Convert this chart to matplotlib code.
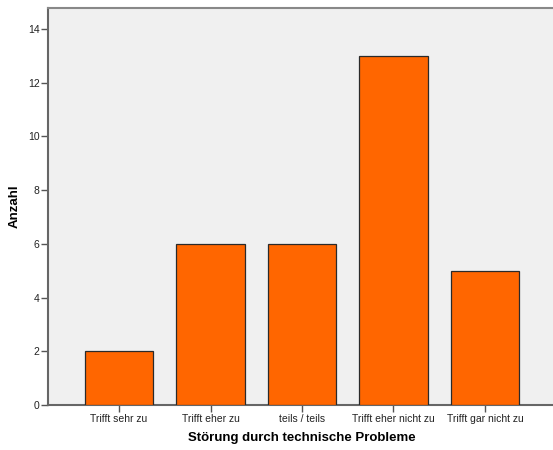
import matplotlib
matplotlib.use("Agg")
import matplotlib.pyplot as plt

categories = ["Trifft sehr zu", "Trifft eher zu", "teils / teils",
              "Trifft eher nicht zu", "Trifft gar nicht zu"]
counts = [2, 6, 6, 13, 5]
y_ticks = [0, 2, 4, 6, 8, 10, 12, 14]

plt.rcParams["font.family"] = ["Liberation Sans", "DejaVu Sans"]

fig = plt.figure(figsize=(5.53, 4.5), dpi=100)
ax = fig.add_axes([48 / 553, 45 / 450, 508 / 553, 397 / 450])
ax.set_facecolor("#F0F0F0")

x = list(range(len(categories)))
ax.bar(x, counts, width=0.745, color="#FF6600", edgecolor="#2a2a2a",
       linewidth=0.9, zorder=3)

ax.set_xlim(-0.776, 4.776)
ax.set_ylim(0, 14.78)
ax.set_yticks(y_ticks)
ax.set_yticklabels([str(v) for v in y_ticks], fontsize=7.5, color="#222222")
ax.set_xticks(x)
ax.set_xticklabels(categories, fontsize=7.5, color="#222222")

ax.tick_params(axis="y", direction="out", length=5, width=1, color="#555555", pad=1)
ax.tick_params(axis="x", direction="out", length=5, width=1, color="#555555", pad=1.5)

for side in ["left", "bottom"]:
    ax.spines[side].set_color("#666666")
    ax.spines[side].set_linewidth(1.5)
ax.spines["top"].set_color("#888888")
ax.spines["top"].set_linewidth(1.5)
ax.spines["right"].set_visible(False)

ax.set_xlabel("Störung durch technische Probleme", fontsize=9.5,
              fontweight="bold")
ax.xaxis.set_label_coords(0.5, -0.083)
ax.xaxis.label.set_verticalalignment("center")
ax.set_ylabel("Anzahl", fontsize=9.5, fontweight="bold")
ax.yaxis.set_label_coords(-0.065, 0.5)
ax.yaxis.label.set_verticalalignment("center")

fig.savefig("out.png", dpi=100, facecolor="white")
